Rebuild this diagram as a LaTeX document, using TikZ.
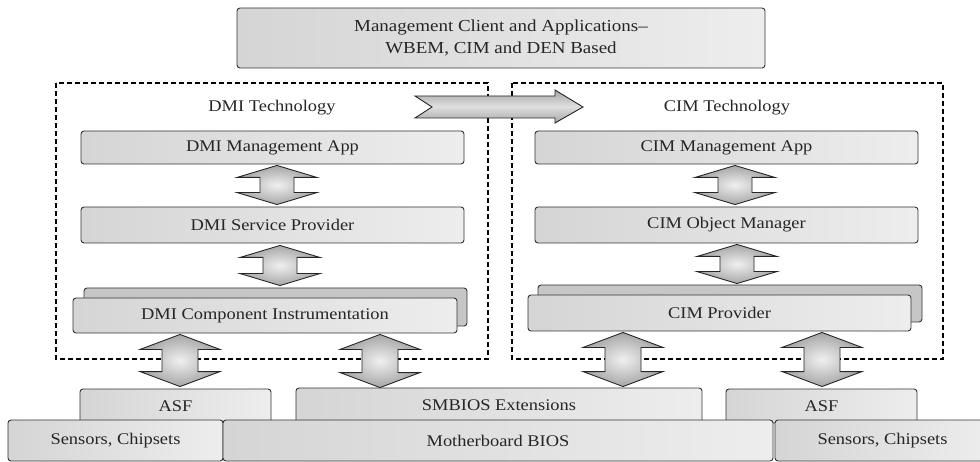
\documentclass[tikz,border=0pt]{standalone}
\usepackage{fontspec}
\setmainfont{Liberation Serif}[FakeStretch=1.13]
\usetikzlibrary{calc}
\newcommand\updown[4]{%
  \path[dblarr] let \p1=#1, \p2=#2 in
  (\x1,\y1) -- (\x1+40pt,\y1-#3) -- (\x1+#4,\y1-#3) -- (\x1+#4,\y2+#3)
  -- (\x1+40pt,\y2+#3) -- (\x1,\y2) -- (\x1-40pt,\y2+#3) -- (\x1-#4,\y2+#3)
  -- (\x1-#4,\y1-#3) -- (\x1-40pt,\y1-#3) -- cycle;}
\begin{document}
\begin{tikzpicture}[x=1pt,y=-1pt,
  font=\fontsize{16.3}{19}\selectfont,
  every node/.style={text=black!85},
  box/.style={draw=black!80, line width=0.9pt, rounded corners=3pt,
    left color=gray!33, middle color=gray!5, right color=gray!14,
    inner sep=0pt, anchor=center},
  backbox/.style={draw=black!80, line width=0.9pt, rounded corners=3pt,
    fill=gray!45, inner sep=0pt},
  dbox/.style={draw=black, line width=1.4pt, dash pattern=on 5pt off 3pt},
  dblarr/.style={draw=black!85, line width=0.9pt, inner color=gray!12, outer color=gray!70},
  harr/.style={draw=black!85, line width=0.9pt, top color=gray!70, bottom color=gray!70, middle color=gray!25},
  lbl/.style={inner sep=0pt}]
\useasboundingbox (0,0) rectangle (980,462);

% dashed technology frames
\draw[dbox] (56,83) rectangle (488,359);
\draw[dbox] (512,83) rectangle (943,359);

% top box
\node[box, minimum width=528, minimum height=60, align=center,
  font=\fontsize{16.8}{22}\selectfont] (top) at (501,38)
  {Management Client and Applications–\\WBEM, CIM and DEN Based};

% titles
\node[lbl] (dmitech) at (272,108) {DMI Technology};
\node[lbl] (cimtech) at (727,108) {CIM Technology};

% horizontal arrow
\path[harr] (415,96) -- (555,96) -- (555,90) -- (583,107) -- (555,123) -- (555,118)
  -- (415,118) -- (432,107) -- cycle;

% DMI stack
\node[box, minimum width=383, minimum height=33] (dmima) at (272.5,147.5) {DMI Management App};
\node[box, minimum width=383, minimum height=36] (dmisp) at (272.5,225) {DMI Service Provider};
\node[backbox, minimum width=383, minimum height=38] (dmiciback) at (275.5,307) {};
\node[box, minimum width=384, minimum height=35] (dmici) at (265,315.5) {DMI Component Instrumentation};

% CIM stack
\node[box, minimum width=383, minimum height=33] (cimma) at (726.5,147.5) {CIM Management App};
\node[box, minimum width=383, minimum height=36] (cimom) at (726.5,225) {CIM Object Manager};
\node[backbox, minimum width=384, minimum height=37] (cimprback) at (730,303.5) {};
\node[box, minimum width=383, minimum height=36] (cimpr) at (719.5,313) {CIM Provider};

% bottom row
\node[box, minimum width=191, minimum height=34] (asfL) at (175.5,406) {ASF};
\node[box, minimum width=406, minimum height=35] (smbios) at (499,405.5) {SMBIOS Extensions};
\node[box, minimum width=191, minimum height=34] (asfR) at (821.5,406) {ASF};
\node[box, minimum width=215, minimum height=41] (sensL) at (115.5,440.5) {Sensors, Chipsets};
\node[box, minimum width=550, minimum height=41] (mobo) at (498,440.5) {Motherboard BIOS};
\node[box, minimum width=215, minimum height=41] (sensR) at (882.5,440.5) {Sensors, Chipsets};

% double arrows
\updown{($(277,0 |- dmima.south)+(0,1)$)}{($(277,0 |- dmisp.north)+(0,-2)$)}{12pt}{17pt}
\updown{($(280,0 |- dmisp.south)+(0,2)$)}{($(280,0 |- dmiciback.north)+(0,-2)$)}{12pt}{17pt}
\updown{($(735,0 |- cimma.south)+(0,1)$)}{($(735,0 |- cimom.north)+(0,-2)$)}{12pt}{17pt}
\updown{($(737,0 |- cimom.south)+(0,1)$)}{($(737,0 |- cimprback.north)+(0,-1)$)}{12pt}{17pt}
\updown{($(180,0 |- dmici.south)+(0,1)$)}{($(180,0 |- asfL.north)+(0,-2)$)}{15pt}{18pt}
\updown{($(380,0 |- dmici.south)+(0,1)$)}{($(380,0 |- smbios.north)+(0,0)$)}{15pt}{18pt}
\updown{($(623,0 |- cimpr.south)+(0,1)$)}{($(623,0 |- smbios.north)+(0,-1)$)}{15pt}{18pt}
\updown{($(822,0 |- cimpr.south)+(0,1)$)}{($(822,0 |- asfR.north)+(0,-2)$)}{15pt}{18pt}
\end{tikzpicture}
\end{document}
